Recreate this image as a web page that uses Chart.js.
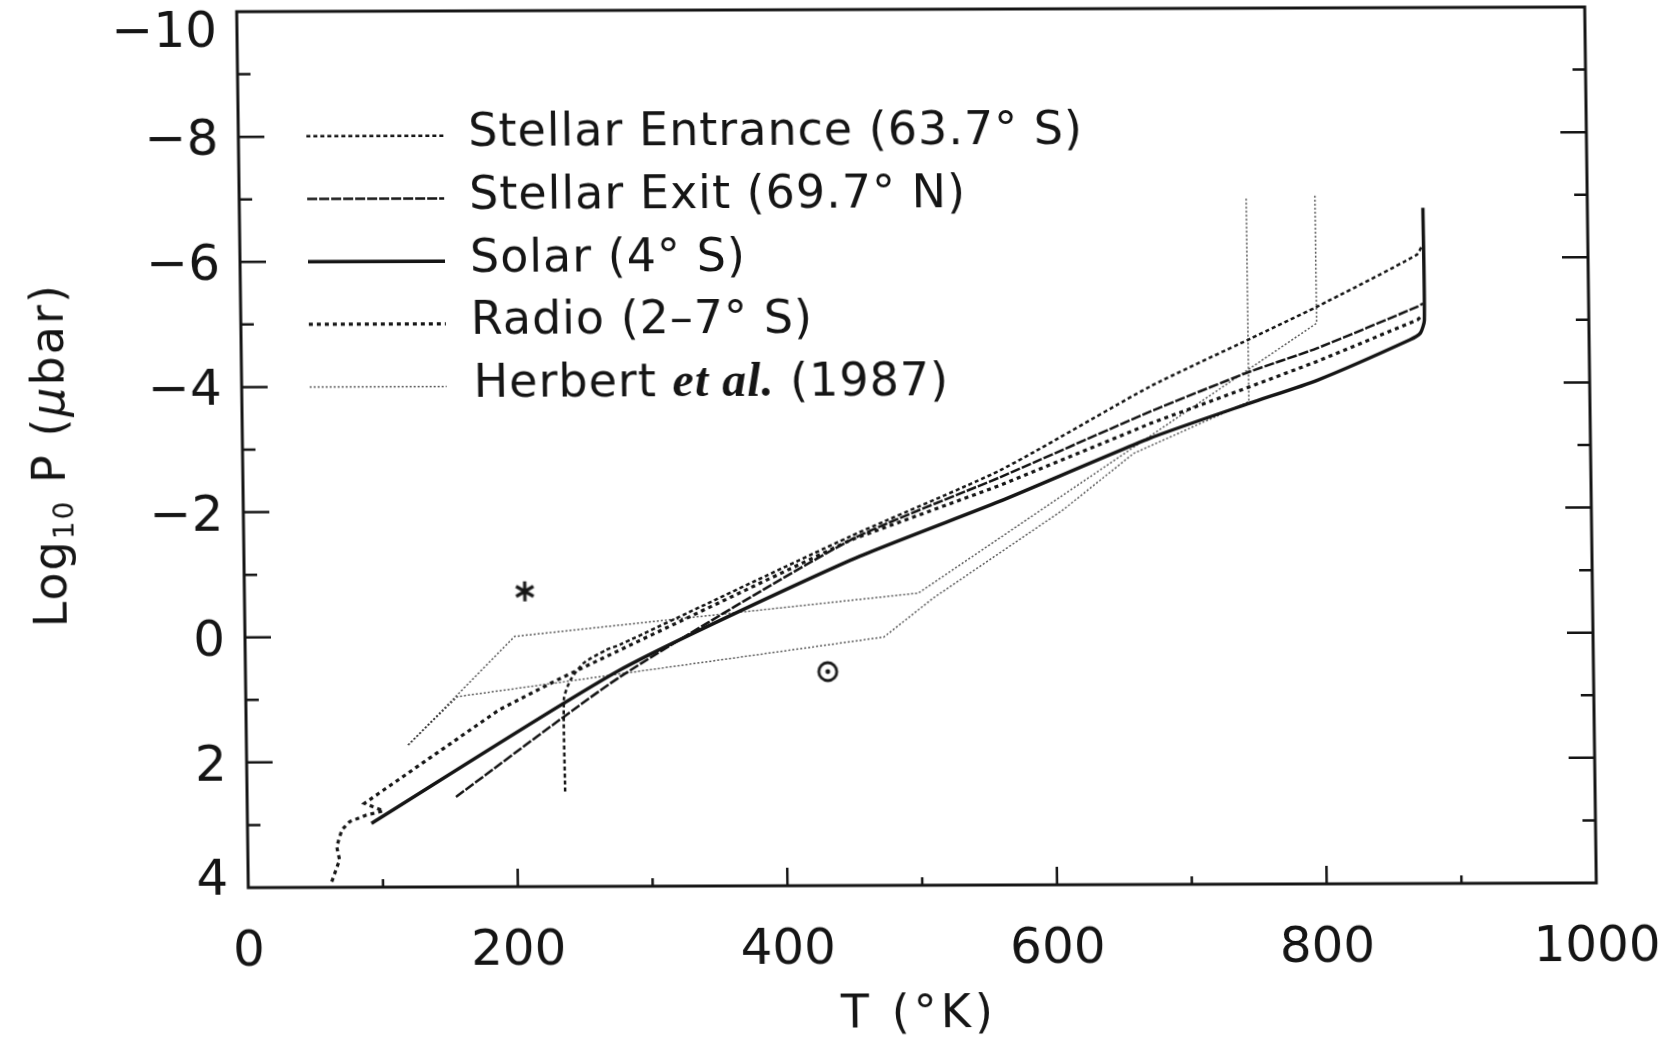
<!DOCTYPE html>
<html>
<head>
<meta charset="utf-8">
<title>Thermospheric temperature profiles</title>
<script src="https://cdn.jsdelivr.net/npm/chart.js@4.4.0/dist/chart.umd.min.js"></script>
<style>
  html, body { margin: 0; padding: 0; background: #fff; }
  #wrap { width: 1680px; height: 1044px; overflow: hidden; }
  #profiles { display: block; transform-origin: 0 0; transform: matrix(1, -0.00349, 0.01324, 1, -0.45, 1.53); }
</style>
</head>
<body>
<div id="wrap"><canvas id="profiles" width="1680" height="1044"></canvas></div>
<script>
const ink = '#151515';

// temperature (K) / log10 pressure (microbar) pairs for each profile
const entranceT = [236, 236, 241, 251, 268, 278, 450, 562, 674, 749, 798, 873, 877];
const entranceP = [2.48, 1.0, 0.70, 0.43, 0.22, 0.14, -1.58, -2.63, -3.96, -4.72, -5.22, -6.05, -6.2];

const exitT = [155, 278, 450, 562, 674, 748, 798, 873, 877];
const exitP = [2.56, 0.65, -1.52, -2.52, -3.56, -4.19, -4.56, -5.22, -5.27];

const solarT = [92, 278, 450, 561, 673, 748, 798, 867, 875, 878, 878];
const solarP = [2.98, 0.54, -1.2, -2.13, -3.13, -3.69, -4.05, -4.69, -4.8, -5.0, -6.8];

const radioT = [62, 68, 66, 70, 76, 88, 101, 87, 188, 231, 450, 562, 674, 748, 798, 873, 877];
const radioP = [3.91, 3.56, 3.35, 3.08, 2.95, 2.85, 2.78, 2.66, 1.17, 0.70, -1.52, -2.39, -3.37, -3.95, -4.35, -5.01, -5.09];

const herbertStarT = [120, 200, 500, 798, 798];
const herbertStarP = [1.73, 0.0, -0.67, -4.96, -7.0];
const herbertSunT = [120, 157, 474, 511, 608, 661, 747, 747];
const herbertSunP = [1.73, 0.96, 0.03, -0.59, -1.99, -2.89, -3.71, -6.98];

// stellar and solar occultation symbols
const markT = [208, 432];
const markP = [-0.72, 0.58];

const xTicks = [0, 200, 400, 600, 800, 1000];
const yTicks = [-10, -8, -6, -4, -2, 0, 2, 4];

const legendNames = ['Stellar Entrance (63.7\u00b0 S)', 'Stellar Exit (69.7\u00b0 N)', 'Solar (4\u00b0 S)', 'Radio (2\u20137\u00b0 S)'];

function pairs(ts, ps) {
    return ts.map((t, i) => ({ x: t, y: ps[i] }));
}

function asterisk() {
    const c = document.createElement('canvas');
    c.width = c.height = 26;
    const g = c.getContext('2d');
    g.strokeStyle = ink;
    g.lineWidth = 3.2;
    g.beginPath();
    [90, 30, 150].forEach(deg => {
        const r = deg * Math.PI / 180;
        g.moveTo(13 - 10 * Math.cos(r), 13 - 10 * Math.sin(r));
        g.lineTo(13 + 10 * Math.cos(r), 13 + 10 * Math.sin(r));
    });
    g.stroke();
    return c;
}

function sunSymbol() {
    const c = document.createElement('canvas');
    c.width = c.height = 26;
    const g = c.getContext('2d');
    g.strokeStyle = ink;
    g.fillStyle = ink;
    g.lineWidth = 2.8;
    g.beginPath();
    g.arc(13, 13, 9, 0, Math.PI * 2);
    g.stroke();
    g.beginPath();
    g.arc(13, 13, 2.4, 0, Math.PI * 2);
    g.fill();
    return c;
}

const styles = {
    entrance: { borderWidth: 2.5, borderDash: [4, 3], tension: 0.2 },
    exit: { borderWidth: 2.5, borderDash: [10, 2], tension: 0.2 },
    solar: { borderWidth: 3.4, borderDash: [], tension: 0.2 },
    radio: { borderWidth: 3.2, borderDash: [4, 4], tension: 0 },
    herbert: { borderWidth: 1.5, borderDash: [2, 2], tension: 0, color: 'rgba(20,20,20,0.7)' }
};

function line(data, st) {
    return {
        data: data,
        borderColor: st.color || ink,
        borderWidth: st.borderWidth,
        borderDash: st.borderDash,
        pointRadius: 0,
        tension: st.tension,
        fill: false
    };
}

// box, inward ticks, labels and the key
const frame = {
    id: 'frame',
    afterDatasetsDraw(chart) {
        const { ctx, chartArea: a, scales: { x, y } } = chart;
        ctx.save();
        ctx.strokeStyle = ink;
        ctx.fillStyle = ink;
        ctx.setLineDash([]);
        ctx.lineWidth = 3;
        ctx.strokeRect(a.left, a.top, a.right - a.left, a.bottom - a.top);

        ctx.lineWidth = 2.5;
        ctx.beginPath();
        for (let t = 100; t < 1000; t += 100) {
            const px = x.getPixelForValue(t);
            ctx.moveTo(px, a.bottom);
            ctx.lineTo(px, a.bottom - (t % 200 === 0 ? 18 : 8));
        }
        for (let p = -9; p < 4; p++) {
            const py = y.getPixelForValue(p);
            const len = p % 2 === 0 ? 26 : 13;
            ctx.moveTo(a.left, py);
            ctx.lineTo(a.left + len, py);
            ctx.moveTo(a.right, py);
            ctx.lineTo(a.right - len, py);
        }
        ctx.stroke();

        ctx.font = '50px "DejaVu Sans"';
        ctx.textBaseline = 'alphabetic';
        ctx.textAlign = 'center';
        xTicks.forEach(t => ctx.fillText(String(t), x.getPixelForValue(t), a.bottom + 78));

        ctx.textAlign = 'right';
        yTicks.forEach(p => {
            let py = y.getPixelForValue(p) + 18;
            if (p === -10) py += 17;
            if (p === 4) py -= 11;
            ctx.fillText(p < 0 ? '\u2212' + Math.abs(p) : String(p), a.left - 20, py);
        });

        // axis titles
        ctx.font = '46px "DejaVu Sans"';
        ctx.letterSpacing = '4px';
        ctx.textAlign = 'center';
        ctx.fillText('T (\u00b0K)', 906, 1029);

        ctx.save();
        ctx.translate(59, 454);
        ctx.rotate(-Math.PI / 2);
        ctx.letterSpacing = '2px';
        ctx.textAlign = 'left';
        const parts = [
            { t: 'Log', f: '46px "DejaVu Sans"', dy: 0 },
            { t: '10', f: '28px "DejaVu Sans"', dy: 8 },
            { t: ' P (', f: '46px "DejaVu Sans"', dy: 0 },
            { t: '\u03bc', f: 'italic 46px "DejaVu Sans"', dy: 0 },
            { t: 'bar)', f: '46px "DejaVu Sans"', dy: 0 }
        ];
        let total = 0;
        parts.forEach(s => { ctx.font = s.f; s.w = ctx.measureText(s.t).width; total += s.w; });
        let cx = -total / 2;
        parts.forEach(s => { ctx.font = s.f; ctx.fillText(s.t, cx, s.dy); cx += s.w; });
        ctx.restore();

        // key
        const keyStyles = [styles.entrance, styles.exit, styles.solar, styles.radio, styles.herbert];
        ctx.textAlign = 'left';
        ctx.letterSpacing = '1px';
        keyStyles.forEach((st, i) => {
            const ly = 135.8 + 62.7 * i;
            ctx.strokeStyle = st.color || ink;
            ctx.lineWidth = st.borderWidth;
            ctx.setLineDash(st.borderDash);
            ctx.beginPath();
            ctx.moveTo(305, ly);
            ctx.lineTo(442, ly);
            ctx.stroke();
            ctx.font = '46px "DejaVu Sans"';
            if (i < 4) {
                ctx.fillText(legendNames[i], 467, ly + 10.5);
            } else {
                let tx = 469;
                ctx.fillText('Herbert ', tx, ly + 10.5);
                tx += ctx.measureText('Herbert ').width;
                ctx.font = 'italic bold 48px "Liberation Serif"';
                ctx.fillText('et al.', tx, ly + 10.5);
                tx += ctx.measureText('et al.').width;
                ctx.font = '46px "DejaVu Sans"';
                ctx.fillText(' (1987)', tx, ly + 10.5);
            }
        });
        ctx.restore();
    }
};

const markers = {
    data: pairs(markT, markP),
    showLine: false,
    pointRadius: 10,
    pointStyle: [asterisk(), sunSymbol()]
};

new Chart(document.getElementById('profiles'), {
    type: 'line',
    data: {
        datasets: [
            line(pairs(herbertStarT, herbertStarP), styles.herbert),
            line(pairs(herbertSunT, herbertSunP), styles.herbert),
            line(pairs(entranceT, entranceP), styles.entrance),
            line(pairs(exitT, exitP), styles.exit),
            line(pairs(radioT, radioP), styles.radio),
            line(pairs(solarT, solarP), styles.solar),
            markers
        ]
    },
    options: {
        responsive: false,
        animation: false,
        devicePixelRatio: 1,
        layout: { padding: { left: 237, top: 11, right: 95, bottom: 157 } },
        scales: {
            x: { type: 'linear', min: 0, max: 1000, display: false },
            y: { type: 'linear', min: -10, max: 4, reverse: true, display: false }
        },
        plugins: { legend: { display: false }, tooltip: { enabled: false } }
    },
    plugins: [frame]
});
</script>
</body>
</html>
